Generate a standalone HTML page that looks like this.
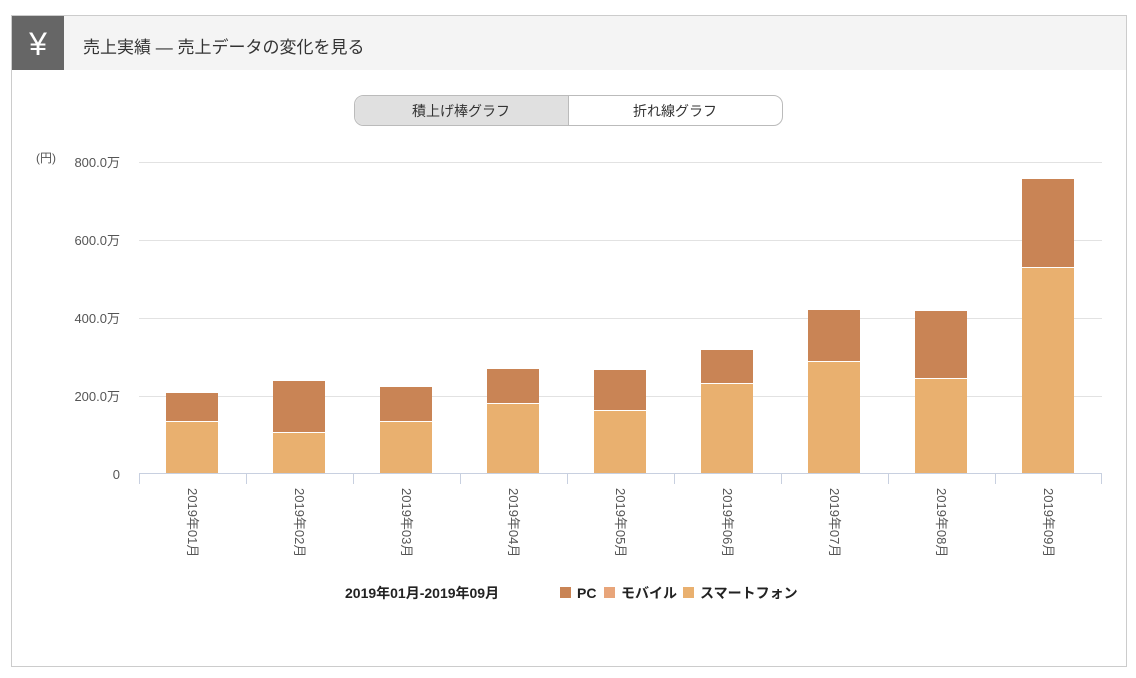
<!DOCTYPE html>
<html><head><meta charset="utf-8"><style>
body{margin:0;background:#fff;width:1136px;height:678px;overflow:hidden;font-family:"Liberation Sans","Noto Sans CJK JP",sans-serif;}
</style></head><body>
<svg width="1136" height="678" xmlns="http://www.w3.org/2000/svg" style="position:absolute;left:0;top:0;font-family:'Liberation Sans','Noto Sans CJK JP',sans-serif">
<rect x="11.5" y="15.5" width="1115" height="651" fill="#fff" stroke="#ccc"/>
<rect x="12" y="16" width="1114" height="54" fill="#f4f4f4"/>
<rect x="12" y="16" width="52" height="54" fill="#666"/>
<text x="38" y="55" font-size="32" fill="#fff" text-anchor="middle">¥</text>
<text x="83" y="53" font-size="17" fill="#333">売上実績 — 売上データの変化を見る</text>
<rect x="354.5" y="95.5" width="428" height="30" rx="9" fill="#fff" stroke="#bbb"/>
<path d="M568 96 H364 a9 9 0 0 0 -9 9 V116 a9 9 0 0 0 9 9 H568Z" fill="#e0e0e0"/>
<line x1="568.5" y1="96" x2="568.5" y2="125" stroke="#bbb"/>
<text x="461" y="116" font-size="14" fill="#333" text-anchor="middle">積上げ棒グラフ</text>
<text x="675" y="116" font-size="14" fill="#333" text-anchor="middle">折れ線グラフ</text>
<g stroke="#e2e2e2"><line x1="139" y1="162.5" x2="1102" y2="162.5"/><line x1="139" y1="240.5" x2="1102" y2="240.5"/><line x1="139" y1="318.5" x2="1102" y2="318.5"/><line x1="139" y1="396.5" x2="1102" y2="396.5"/></g>
<g font-size="13" fill="#555" text-anchor="end"><text x="120" y="167">800.0万</text><text x="120" y="245">600.0万</text><text x="120" y="323">400.0万</text><text x="120" y="401">200.0万</text><text x="120" y="479">0</text></g>
<text x="36" y="162" font-size="12" fill="#555">(円)</text>
<g fill="#e9b06f">
<rect x="166" y="422" width="52" height="51"/><rect x="273" y="433" width="52" height="40"/><rect x="380" y="422" width="52" height="51"/><rect x="487" y="404" width="52" height="69"/><rect x="594" y="411" width="52" height="62"/><rect x="701" y="384" width="52" height="89"/><rect x="808" y="362" width="52" height="111"/><rect x="915" y="379" width="52" height="94"/><rect x="1022" y="268" width="52" height="205"/></g>
<g fill="#c98455">
<rect x="166" y="393" width="52" height="28"/><rect x="273" y="381" width="52" height="51"/><rect x="380" y="387" width="52" height="34"/><rect x="487" y="369" width="52" height="34"/><rect x="594" y="370" width="52" height="40"/><rect x="701" y="350" width="52" height="33"/><rect x="808" y="310" width="52" height="51"/><rect x="915" y="311" width="52" height="67"/><rect x="1022" y="179" width="52" height="88"/></g>
<g stroke="#c8d0e0"><line x1="139" y1="473.5" x2="1102" y2="473.5"/>
<line x1="139.5" y1="473" x2="139.5" y2="484"/><line x1="246.5" y1="473" x2="246.5" y2="484"/><line x1="353.5" y1="473" x2="353.5" y2="484"/><line x1="460.5" y1="473" x2="460.5" y2="484"/><line x1="567.5" y1="473" x2="567.5" y2="484"/><line x1="674.5" y1="473" x2="674.5" y2="484"/><line x1="781.5" y1="473" x2="781.5" y2="484"/><line x1="888.5" y1="473" x2="888.5" y2="484"/><line x1="995.5" y1="473" x2="995.5" y2="484"/><line x1="1101.5" y1="473" x2="1101.5" y2="484"/></g>
<g font-size="13" fill="#555">
<text transform="translate(188,488) rotate(90)">2019年01月</text>
<text transform="translate(295,488) rotate(90)">2019年02月</text>
<text transform="translate(402,488) rotate(90)">2019年03月</text>
<text transform="translate(509,488) rotate(90)">2019年04月</text>
<text transform="translate(616,488) rotate(90)">2019年05月</text>
<text transform="translate(723,488) rotate(90)">2019年06月</text>
<text transform="translate(830,488) rotate(90)">2019年07月</text>
<text transform="translate(937,488) rotate(90)">2019年08月</text>
<text transform="translate(1044,488) rotate(90)">2019年09月</text></g>
<text x="345" y="598" font-size="14" font-weight="bold" fill="#222">2019年01月-2019年09月</text>
<rect x="560" y="587" width="11" height="11" fill="#c98455"/>
<text x="577" y="598" font-size="14" font-weight="bold" fill="#222">PC</text>
<rect x="604" y="587" width="11" height="11" fill="#e8a57a"/>
<text x="621" y="598" font-size="14" font-weight="bold" fill="#222">モバイル</text>
<rect x="683" y="587" width="11" height="11" fill="#e9b06f"/>
<text x="700" y="598" font-size="14" font-weight="bold" fill="#222">スマートフォン</text>
</svg>
</body></html>
